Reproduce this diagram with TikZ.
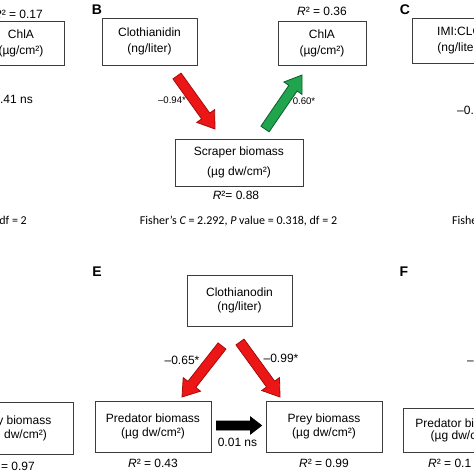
\documentclass[tikz,border=0pt]{standalone}
\usepackage{fontspec}
\setmainfont{Liberation Sans}
\newfontfamily\calib{Carlito}
\usetikzlibrary{calc}
\definecolor{arred}{RGB}{236,22,22}
\definecolor{arredd}{RGB}{165,12,12}
\definecolor{argreen}{RGB}{32,165,78}
\definecolor{argreend}{RGB}{14,92,44}
\definecolor{boxline}{RGB}{60,60,60}
% #1 tail, #2 tip, #3 style, #4 half shaft, #5 half head, #6 head length
\newcommand\blockarrow[6]{%
  \coordinate (bahd) at ($(#2)!#6!(#1)$);
  \path[#3] ($(#1)!#4!90:(#2)$) -- ($(bahd)!#4!90:(#2)$) -- ($(bahd)!#5!90:(#2)$)
    -- (#2) -- ($(bahd)!#5!-90:(#2)$) -- ($(bahd)!#4!-90:(#2)$) -- ($(#1)!#4!-90:(#2)$) -- cycle;}
\begin{document}
\begin{tikzpicture}[x=1pt,y=-1pt,
  box/.style={draw=boxline, line width=0.9pt, inner sep=0pt, align=center, font=\fontsize{12}{16}\selectfont},
  lbl/.style={inner sep=0pt, font=\fontsize{12}{14}\selectfont},
  slbl/.style={inner sep=0pt, font=\fontsize{9.6}{12}\selectfont},
  fish/.style={inner sep=0pt, font=\calib\fontsize{12}{14}\selectfont},
  panel/.style={inner sep=0pt, font=\bfseries\fontsize{14}{16}\selectfont},
  redarr/.style={fill=arred, draw=arredd, line width=0.8pt, line join=miter},
  greenarr/.style={fill=argreen, draw=argreend, line width=0.8pt, line join=miter},
  blackarr/.style={fill=black, draw=black, line width=0.8pt, line join=miter}]
\useasboundingbox (0,0) rectangle (474,474);
\fill[white] (0,0) rectangle (474,474);
\clip (0,0) rectangle (474,474);

% ---------- Panel A (partial) ----------
\node[lbl, anchor=east] (rA) at (43,14) {\itshape R\upshape² = 0.17};
\node[box, minimum width=86, minimum height=44] (Achl) at (21,43) {ChlA\\(µg/cm²)};
\node[lbl, anchor=east] (lA) at (33,99) {0.41 ns};
\node[fish, anchor=east] (fA) at (27,220) {df = 2};

% ---------- Panel B ----------
\node[panel] (pB) at (97,10) {B};
\node[box, minimum width=95, minimum height=47] (Bclo) at (149.5,41.5) {Clothianidin\\(ng/liter)};
\node[box, minimum width=88, minimum height=44] (Bchl) at (322,43) {ChlA\\(µg/cm²)};
\node[lbl] (rB1) at (322,11) {\itshape R\upshape² = 0.36};
\node[box, minimum width=128, minimum height=47, font=\fontsize{12}{20}\selectfont] (Bscr) at (239,162.5) {Scraper biomass\\(µg dw/cm²)};
\node[lbl] (rB2) at (236,195) {\itshape R\upshape²= 0.88};
\node[fish] (fB) at (238.5,221) {Fisher’s \itshape C\upshape{} = 2.292, \itshape P\upshape{} value = 0.318, df = 2};
\coordinate (tB1) at (177,76);  \coordinate (hB1) at (215,129);
\coordinate (tB2) at (265,129); \coordinate (hB2) at (302,75);
\blockarrow{tB1}{hB1}{redarr}{5pt}{11pt}{16pt}
\blockarrow{tB2}{hB2}{greenarr}{5pt}{11pt}{16pt}
\node[slbl] (lB1) at (172,100) {–0.94*};
\node[slbl] (lB2) at (304,101) {0.60*};

% ---------- Panel C (partial) ----------
\node[panel] (pC) at (405,10) {C};
\node[box, minimum width=95, minimum height=45] (Cimi) at (459.5,40.5) {IMI:CLO\\(ng/liter)};
\node[lbl, anchor=west] (lC) at (457,110) {–0.};
\node[fish, anchor=west] (fC) at (452,220) {Fisher’s};

% ---------- Panel D (partial) ----------
\node[box, minimum width=116, minimum height=52, font=\fontsize{12}{14}\selectfont] (Dprey) at (15,428) {Prey biomass\\(µg dw/cm²)};
\node[lbl, anchor=east] (rD) at (35,466) {\itshape R\upshape² = 0.97};

% ---------- Panel E ----------
\node[panel] (pE) at (97,272) {E};
\node[box, minimum width=105, minimum height=51, font=\fontsize{12}{13.5}\selectfont] (Eclo) at (239.5,300.5) {Clothianodin\\(ng/liter)};
\node[box, minimum width=116, minimum height=51, font=\fontsize{12}{14}\selectfont] (Epred) at (153,426.5) {Predator biomass\\(µg dw/cm²)};
\node[box, minimum width=116, minimum height=51, font=\fontsize{12}{14}\selectfont] (Eprey) at (324,426.5) {Prey biomass\\(µg dw/cm²)};
\node[lbl] (rE1) at (153,463) {\itshape R\upshape² = 0.43};
\node[lbl] (rE2) at (324,463) {\itshape R\upshape² = 0.99};
\coordinate (tE1) at (222,346); \coordinate (hE1) at (182,397);
\coordinate (tE2) at (240,342); \coordinate (hE2) at (280,397);
\coordinate (tE3) at ($(Epred.east)+(5,-1)$); \coordinate (hE3) at ($(Eprey.west)+(-4,-1)$);
\blockarrow{tE1}{hE1}{redarr}{5pt}{11pt}{16pt}
\blockarrow{tE2}{hE2}{redarr}{5pt}{11pt}{16pt}
\blockarrow{tE3}{hE3}{blackarr}{4.5pt}{8.5pt}{11pt}
\node[lbl] (lE1) at (182,360) {–0.65*};
\node[lbl] (lE2) at (281,358) {–0.99*};
\node[lbl] (lE3) at (237.5,442) {0.01 ns};

% ---------- Panel F (partial) ----------
\node[panel] (pF) at (404,272) {F};
\node[box, minimum width=119, minimum height=44, font=\fontsize{12}{12}\selectfont] (Fpred) at (462.5,430) {Predator biomass\\(µg dw/cm²)};
\node[lbl, anchor=west] (rF) at (428,463) {\itshape R\upshape² = 0.1};
\node[lbl, anchor=west] (lF) at (467,363) {–};
\end{tikzpicture}
\end{document}
